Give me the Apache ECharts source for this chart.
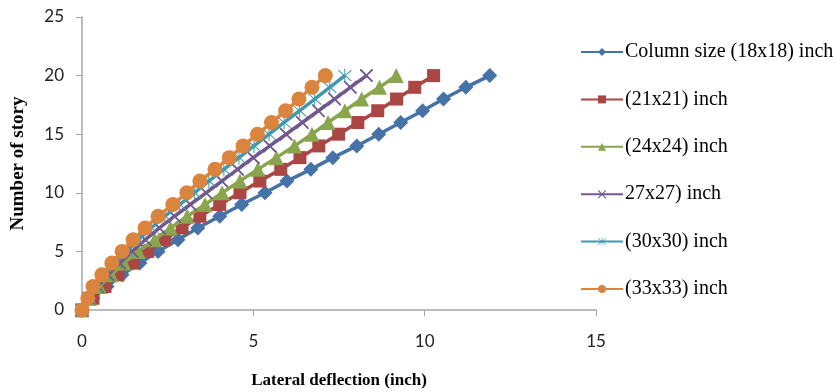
<!DOCTYPE html>
<html>
<head>
<meta charset="utf-8">
<script src="https://cdn.jsdelivr.net/npm/echarts@6/dist/echarts.min.js"></script>
<style>
  html, body { margin: 0; padding: 0; background: #fff; }
  #chart { width: 835px; height: 392px; }
</style>
</head>
<body>
<div id="chart"></div>
<script>
// Number of story (y) shared by every series
const stories = [0, 1, 2, 3, 4, 5, 6, 7, 8, 9, 10, 11, 12, 13, 14, 15, 16, 17, 18, 19, 20]

// Lateral deflection (inch) for each column size
const col18 = [0, 0.32, 0.73, 1.17, 1.69, 2.22, 2.8, 3.38, 4.02, 4.66, 5.34, 5.98, 6.68, 7.32, 8.02, 8.66, 9.3, 9.94, 10.55, 11.2, 11.9]
const col21 = [0, 0.32, 0.67, 1.05, 1.49, 1.92, 2.42, 2.92, 3.44, 4.02, 4.61, 5.19, 5.8, 6.36, 6.91, 7.49, 8.05, 8.63, 9.18, 9.71, 10.26]
const col24 = [0, 0.22, 0.5, 0.85, 1.22, 1.64, 2.12, 2.58, 3.07, 3.59, 4.09, 4.61, 5.13, 5.67, 6.2, 6.71, 7.18, 7.67, 8.16, 8.68, 9.17]
const col27 = [0, 0.21, 0.45, 0.76, 1.1, 1.46, 1.85, 2.26, 2.7, 3.16, 3.62, 4.08, 4.54, 5.0, 5.48, 5.96, 6.43, 6.9, 7.37, 7.83, 8.3]
const col30 = [0, 0.2, 0.4, 0.68, 0.98, 1.3, 1.65, 2.02, 2.42, 2.85, 3.28, 3.7, 4.14, 4.58, 5.02, 5.46, 5.9, 6.35, 6.79, 7.23, 7.67]
const col33 = [0, 0.17, 0.32, 0.58, 0.87, 1.17, 1.49, 1.84, 2.22, 2.65, 3.06, 3.44, 3.88, 4.3, 4.7, 5.12, 5.53, 5.94, 6.33, 6.71, 7.1]

const seriesNames = ['Column size (18x18) inch', '(21x21) inch', '(24x24) inch', '27x27) inch', '(30x30) inch', '(33x33) inch']

const xTicks = [0, 5, 10, 15]
const yTicks = [0, 5, 10, 15, 20, 25]

// Excel-like palette
const COLORS = ['#4572A7', '#AA4643', '#89A54E', '#71588F', '#4198AF', '#DB843D']

const CROSS = 'path://M0,0 L2,0 L10,8 L18,0 L20,0 L20,2 L12,10 L20,18 L20,20 L18,20 L10,12 L2,20 L0,20 L0,18 L8,10 L0,2 Z'
const STAR = 'path://M9.3,0 L10.7,0 L10.7,8.8 L18.6,1.6 L19.6,2.6 L11.6,10 L19.6,17.4 L18.6,18.4 L10.7,11.2 L10.7,20 L9.3,20 L9.3,11.2 L1.4,18.4 L0.4,17.4 L8.4,10 L0.4,2.6 L1.4,1.6 L9.3,8.8 Z'

const markers = [
  { symbol: 'diamond', size: 15 },
  { symbol: 'rect', size: 13 },
  { symbol: 'triangle', size: 15 },
  { symbol: CROSS, size: 13 },
  { symbol: STAR, size: 14 },
  { symbol: 'circle', size: 15 },
]

const allX = [col18, col21, col24, col27, col30, col33]

const chart = echarts.init(document.getElementById('chart'))

const axisFont = { fontFamily: 'Lato', fontSize: 17, color: '#222' }

chart.setOption({
  animation: false,
  color: COLORS,
  grid: { left: 82, right: 239, top: 17, bottom: 82, outerBoundsMode: 'none', containLabel: false },
  legend: {
    orient: 'vertical',
    left: 580,
    top: 42,
    padding: 0,
    itemWidth: 42,
    itemHeight: 10,
    itemGap: 27.4,
    textStyle: { fontFamily: 'Liberation Serif', fontSize: 20, color: '#000', padding: [0, 0, 0, -3] },
    data: seriesNames,
  },
  xAxis: {
    type: 'value',
    min: xTicks[0],
    max: xTicks[xTicks.length - 1],
    interval: 5,
    name: 'Lateral deflection (inch)',
    nameLocation: 'middle',
    nameGap: 62,
    nameTextStyle: { fontFamily: 'Liberation Serif', fontSize: 17, fontWeight: 'bold', color: '#000' },
    axisLine: { show: true, lineStyle: { color: '#a6a6a6', width: 1.5 } },
    axisTick: { show: true, length: 6, inside: false, lineStyle: { color: '#a6a6a6' } },
    axisLabel: { ...axisFont, margin: 23 },
    splitLine: { show: false },
  },
  yAxis: {
    type: 'value',
    min: yTicks[0],
    max: yTicks[yTicks.length - 1],
    interval: 5,
    name: 'Number of story',
    nameLocation: 'middle',
    nameGap: 54,
    nameTextStyle: { fontFamily: 'Liberation Serif', fontSize: 19, fontWeight: 'bold', color: '#000' },
    axisLine: { show: true, lineStyle: { color: '#a6a6a6', width: 1.5 } },
    axisTick: { show: true, length: 6, lineStyle: { color: '#a6a6a6' } },
    axisLabel: { ...axisFont, margin: 18 },
    splitLine: { show: false },
  },
  series: seriesNames.map((name, i) => ({
    name,
    type: 'line',
    symbol: markers[i].symbol,
    symbolSize: markers[i].size,
    showAllSymbol: true,
    lineStyle: { width: 3.5 },
    data: allX[i].map((x, j) => [x, stories[j]]),
    z: 10 + i,
  })),
})
</script>
</body>
</html>
